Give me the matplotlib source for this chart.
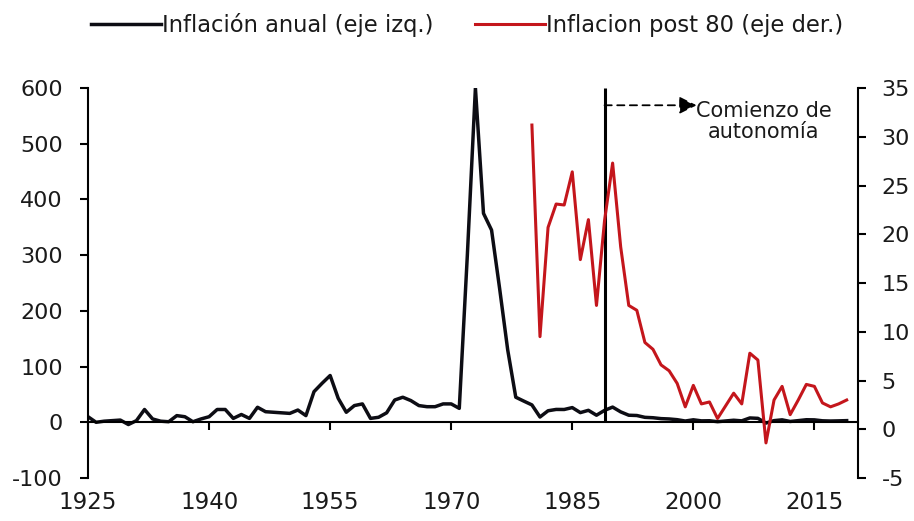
import numpy as np
import matplotlib
matplotlib.use("Agg")
import matplotlib.pyplot as plt

plt.rcParams["axes.unicode_minus"] = False

# Annual inflation, 1925-1979 (left axis)
years_pre80 = list(range(1925, 1980))
infl_pre80 = [10, 0, 2, 3, 4, -4, 3, 23, 6, 2,
              1, 12, 10, 1, 6, 10, 23, 23, 7, 14,
              7, 27, 19, 18, 17, 16, 22, 12, 55, 70,
              84, 43, 18, 30, 33, 7, 9, 17, 40, 45,
              39, 30, 28, 28, 33, 33, 25, 300, 600, 375,
              345, 240, 130, 45, 38]

# Inflation from 1980 on (right axis)
years_post80 = list(range(1980, 2020))
infl_post80 = [31.2, 9.5, 20.7, 23.1, 23.0, 26.4, 17.4, 21.5, 12.7, 21.4,
               27.3, 18.7, 12.7, 12.2, 8.9, 8.2, 6.6, 6.0, 4.7, 2.3,
               4.5, 2.6, 2.8, 1.1, 2.4, 3.7, 2.6, 7.8, 7.1, -1.4,
               3.0, 4.4, 1.5, 3.0, 4.6, 4.4, 2.7, 2.3, 2.6, 3.0]

years_all = years_pre80 + years_post80
infl_all = infl_pre80 + infl_post80

autonomy_year = 1989
x_ticks = [1925, 1940, 1955, 1970, 1985, 2000, 2015]
left_ticks = list(range(-100, 601, 100))
right_ticks = list(range(-5, 36, 5))

label_black = "Inflación anual (eje izq.)"
label_red = "Inflacion post 80 (eje der.)"
note = "Comienzo de\nautonomía"

black = "#0d0d14"
red = "#c4161c"
txt = "#1a1a1a"

fig = plt.figure(figsize=(9.14, 5.21), dpi=100)
ax1 = fig.add_axes([0.0963, 0.0825, 0.8424, 0.7486])
ax2 = ax1.twinx()

l1, = ax1.plot(years_all, infl_all, color=black, linewidth=2.5, label=label_black)
l2, = ax2.plot(years_post80, infl_post80, color=red, linewidth=2.2, label=label_red)

ax1.set_xlim(1925, 2020.4)
ax1.set_ylim(-100, 600)
ax2.set_ylim(-5, 35)

# vertical marker + dashed arrow
ax1.vlines(autonomy_year, 0, 600, color="black", linewidth=2.2)
ax1.annotate("", xy=(2000.4, 569), xytext=(autonomy_year, 569),
             arrowprops=dict(arrowstyle="-|>", linestyle=(0, (4, 3)),
                             color="black", lw=1.3, mutation_scale=26,
                             shrinkA=0, shrinkB=0))
ax1.text(2008.7, 540, note, ha="center", va="center", fontsize=15,
         color=txt, linespacing=1.1)

# x axis line sits at zero, labels at the bottom
ax1.spines["bottom"].set_position(("data", 0))
ax1.spines["bottom"].set_linewidth(1.5)
ax1.spines["top"].set_visible(False)
ax1.spines["right"].set_visible(False)
ax1.spines["left"].set_linewidth(1.5)
ax1.set_xticks(x_ticks)
ax1.tick_params(axis="x", direction="out", length=6, width=1.5, labelbottom=False)
sec = ax1.secondary_xaxis("bottom")
sec.set_xticks(x_ticks)
sec.spines["bottom"].set_visible(False)
sec.tick_params(axis="x", length=0, pad=9, labelsize=16.5, labelcolor=txt)

ax1.set_yticks(left_ticks)
ax1.tick_params(axis="y", direction="out", length=6, width=1.5, pad=12,
                labelsize=16, labelcolor=txt)

for s in ["top", "bottom", "left"]:
    ax2.spines[s].set_visible(False)
ax2.spines["right"].set_linewidth(1.5)
ax2.set_yticks(right_ticks)
ax2.tick_params(axis="y", direction="out", length=6, width=1.5, pad=11,
                labelsize=16, labelcolor=txt)

fig.legend(handles=[l1, l2], loc="center", bbox_to_anchor=(0.511, 0.952),
           ncol=2, frameon=False, fontsize=16.3, handlelength=3.1,
           handletextpad=0.05, columnspacing=1.8, labelcolor=txt)

fig.savefig("out.png", dpi=100)
